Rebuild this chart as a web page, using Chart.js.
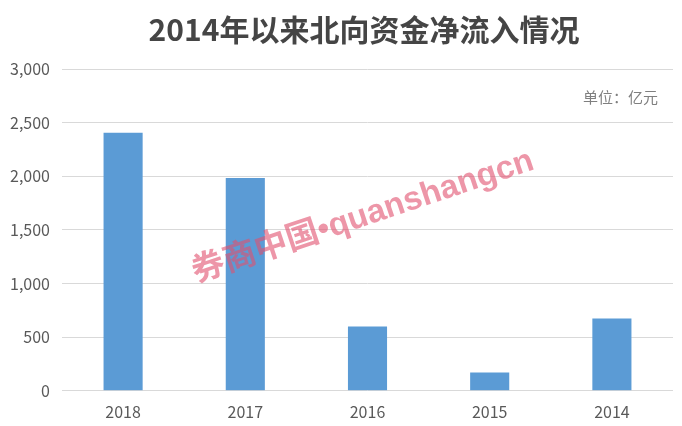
<!DOCTYPE html>
<html>
<head>
<meta charset="utf-8">
<script src="https://cdn.jsdelivr.net/npm/chart.js@4"></script>
<style>
  body { margin: 0; background: #fff; }
  canvas { display: block; }
</style>
</head>
<body>
<canvas id="myChart" width="682" height="426"></canvas>
<script>
const years = ['2018', '2017', '2016', '2015', '2014'];
const netInflow = [2405, 1985, 600, 170, 675]; // 亿元
const yTicks = [0, 500, 1000, 1500, 2000, 2500, 3000];
const titleText = '2014年以来北向资金净流入情况';

const ctx = document.getElementById('myChart').getContext('2d');

// 标题、单位、水印
const extras = {
  id: 'extras',
  afterDatasetsDraw(chart) {
    const c = chart.ctx;
    const area = chart.chartArea;

    c.save();
    c.fillStyle = '#454545';
    c.font = 'bold 30px "Noto Sans CJK SC"';
    c.textAlign = 'center';
    c.textBaseline = 'middle';
    c.fillText(titleText, 364, 30);
    c.restore();

    c.save();
    c.fillStyle = '#7f7f7f';
    c.font = '15px "Noto Sans CJK SC"';
    c.textAlign = 'right';
    c.textBaseline = 'middle';
    c.fillText('单位：亿元', area.right - 15, 97);
    c.restore();

    c.save();
    c.translate(363, 217);
    c.rotate(-18.5 * Math.PI / 180);
    c.font = 'bold 33px "Liberation Sans", "Noto Sans CJK SC"';
    c.textAlign = 'center';
    c.textBaseline = 'middle';
    c.fillStyle = 'rgba(225, 80, 110, 0.6)';
    c.fillText('券商中国•quanshangcn', 0, 0);
    c.restore();
  }
};

new Chart(ctx, {
  type: 'bar',
  data: {
    labels: years,
    datasets: [{
      data: netInflow,
      backgroundColor: '#5b9bd5',
      categoryPercentage: 1,
      barPercentage: 0.32
    }]
  },
  options: {
    responsive: false,
    animation: false,
    layout: { padding: { top: 69, left: 0, right: 9, bottom: 0 } },
    plugins: {
      legend: { display: false },
      tooltip: { enabled: false },
      title: { display: false }
    },
    scales: {
      x: {
        grid: { display: false },
        border: { display: false },
        ticks: { color: '#595959', font: { size: 16, family: '"Noto Sans CJK SC"' }, padding: 4 }
      },
      y: {
        min: 0,
        max: 3000,
        afterFit(s) { s.width = 62; },
        afterBuildTicks(s) { s.ticks = yTicks.map(v => ({ value: v })); },
        grid: { color: '#d9d9d9', lineWidth: 1, drawTicks: false },
        border: { display: false },
        ticks: {
          color: '#595959',
          padding: 12,
          font: { size: 16, family: '"Noto Sans CJK SC"' },
          callback: v => v.toLocaleString('en-US')
        }
      }
    }
  },
  plugins: [extras]
});
</script>
</body>
</html>
